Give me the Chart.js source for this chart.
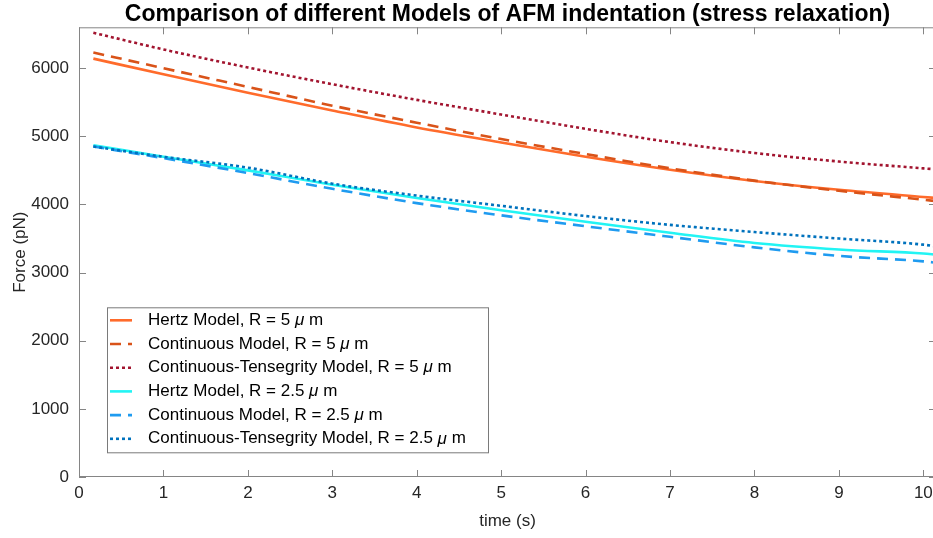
<!DOCTYPE html>
<html>
<head>
<meta charset="utf-8">
<script src="https://cdn.jsdelivr.net/npm/chart.js@4/dist/chart.umd.min.js"></script>
<style>
  html, body { margin: 0; padding: 0; background: #fff; overflow: hidden; }
  #wrap { width: 933px; height: 538px; overflow: hidden; }
</style>
</head>
<body>
<div id="wrap"><canvas id="grafico" width="940" height="538"></canvas></div>
<script>
// valores
const tempo = [0.17, 1, 2, 3, 4, 5, 6, 7, 8, 9, 10, 10.15];
const hertz5 = [6140, 5910, 5640, 5380, 5130, 4910, 4700, 4510, 4345, 4215, 4110, 4095];
const continuo5 = [6230, 6000, 5725, 5450, 5200, 4960, 4740, 4530, 4350, 4200, 4070, 4050];
const tensegridade5 = [6520, 6275, 6010, 5765, 5535, 5320, 5110, 4915, 4755, 4630, 4530, 4515];
const hertz25 = [4870, 4700, 4500, 4290, 4095, 3915, 3745, 3585, 3435, 3340, 3280, 3265];
const continuo25 = [4850, 4680, 4460, 4230, 4020, 3840, 3680, 3525, 3370, 3245, 3165, 3145];
const tensegridade25 = [4850, 4700, 4540, 4305, 4130, 3980, 3830, 3700, 3595, 3500, 3410, 3385];

const ticksX = [0, 1, 2, 3, 4, 5, 6, 7, 8, 9, 10];
const ticksY = [0, 1000, 2000, 3000, 4000, 5000, 6000];

const FONTE = "'Liberation Sans', Arial, Helvetica, sans-serif";
const COR_EIXO = '#858585';
const COR_TEXTO = '#262626';

function serie(label, valores, cor, tracejado, idx) {
  return {
    label: label,
    data: tempo.map((t, i) => ({ x: t, y: valores[i] })),
    borderColor: cor,
    backgroundColor: cor,
    borderWidth: 2.6,
    borderDash: tracejado,
    pointRadius: 0,
    cubicInterpolationMode: 'monotone',
    fill: false,
    order: 5 - idx
  };
}

const datasets = [
  serie('Hertz Model, R = 5 μ m', hertz5, '#ff6b2b', [], 0),
  serie('Continuous Model, R = 5 μ m', continuo5, '#d95319', [11, 7], 1),
  serie('Continuous-Tensegrity Model, R = 5 μ m', tensegridade5, '#a2142f', [3, 3], 2),
  serie('Hertz Model, R = 2.5 μ m', hertz25, '#22f4f4', [], 3),
  serie('Continuous Model, R = 2.5 μ m', continuo25, '#1f9bf0', [11, 7], 4),
  serie('Continuous-Tensegrity Model, R = 2.5 μ m', tensegridade25, '#0072bd', [3, 3], 5)
];

// moldura, ticks para dentro e legenda no estilo do MATLAB
const moldura = {
  id: 'moldura',
  afterDatasetsDraw(chart) {
    const { ctx, chartArea: a, scales } = chart;
    ctx.save();
    ctx.strokeStyle = COR_EIXO;
    ctx.lineWidth = 1;
    ctx.strokeRect(a.left + 0.5, a.top + 0.5, a.right - a.left - 1, a.bottom - a.top - 1);
    ctx.beginPath();
    ticksX.forEach(v => {
      const px = Math.round(scales.x.getPixelForValue(v)) + 0.5;
      ctx.moveTo(px, a.bottom); ctx.lineTo(px, a.bottom - 7);
      ctx.moveTo(px, a.top); ctx.lineTo(px, a.top + 7);
    });
    ticksY.forEach(v => {
      const py = Math.round(scales.y.getPixelForValue(v)) + 0.5;
      ctx.moveTo(a.left, py); ctx.lineTo(a.left + 7, py);
      ctx.moveTo(a.right, py); ctx.lineTo(a.right - 7, py);
    });
    ctx.stroke();

    // legenda
    const bx = a.left + 28, by = a.top + 280, bw = 381, bh = 145;
    ctx.fillStyle = '#fff';
    ctx.fillRect(bx, by, bw, bh);
    ctx.strokeStyle = '#7a7a7a';
    ctx.strokeRect(bx + 0.5, by + 0.5, bw, bh);
    ctx.textBaseline = 'middle';
    chart.data.datasets.forEach((ds, i) => {
      const y = by + 13 + i * 23.7;
      ctx.save();
      ctx.strokeStyle = ds.borderColor;
      ctx.lineWidth = ds.borderWidth;
      ctx.setLineDash(ds.borderDash);
      ctx.beginPath();
      ctx.moveTo(bx + 3, y); ctx.lineTo(bx + 25, y);
      ctx.stroke();
      ctx.restore();
      const partes = ds.label.split('μ');
      let x = bx + 41;
      ctx.fillStyle = '#000';
      ctx.font = '17px ' + FONTE;
      ctx.fillText(partes[0], x, y);
      x += ctx.measureText(partes[0]).width;
      ctx.font = 'italic 17px ' + FONTE;
      ctx.fillText('μ', x, y);
      x += ctx.measureText('μ').width;
      ctx.font = '17px ' + FONTE;
      ctx.fillText(partes[1], x, y);
    });
    ctx.restore();
  }
};

new Chart(document.getElementById('grafico').getContext('2d'), {
  type: 'line',
  data: { datasets: datasets },
  options: {
    responsive: false,
    animation: false,
    layout: { padding: { left: 0, right: 4, top: 0, bottom: 0 } },
    plugins: {
      legend: { display: false },
      tooltip: { enabled: false },
      title: {
        display: true,
        fullSize: false,
        text: 'Comparison of different Models of AFM indentation (stress relaxation)',
        color: '#000',
        font: { family: FONTE, size: 23, weight: 'bold', lineHeight: 1.1 },
        padding: { top: 2, bottom: 0 }
      }
    },
    scales: {
      x: {
        type: 'linear',
        min: 0,
        max: 10.15,
        afterBuildTicks: s => { s.ticks = ticksX.map(v => ({ value: v })); },
        afterFit: s => { s.height = 61; s.paddingLeft = 0; s.paddingRight = 0; },
        grid: { display: false, drawTicks: false },
        border: { display: false },
        ticks: {
          color: COR_TEXTO, padding: 6, maxRotation: 0,
          font: { family: FONTE, size: 17 },
          callback: v => String(v)
        },
        title: {
          display: true, text: 'time (s)', color: COR_TEXTO,
          font: { family: FONTE, size: 17 }, padding: { top: 0, bottom: 6 }
        }
      },
      y: {
        min: 0,
        max: 6600,
        afterBuildTicks: s => { s.ticks = ticksY.map(v => ({ value: v })); },
        afterFit: s => { s.width = 79; },
        grid: { display: false, drawTicks: false },
        border: { display: false },
        ticks: {
          color: COR_TEXTO, padding: 10,
          font: { family: FONTE, size: 17 },
          callback: v => String(v)
        },
        title: {
          display: true, text: 'Force (pN)', color: COR_TEXTO,
          font: { family: FONTE, size: 17 }, padding: { top: 10, bottom: 0 }
        }
      }
    }
  },
  plugins: [moldura]
});
</script>
</body>
</html>
